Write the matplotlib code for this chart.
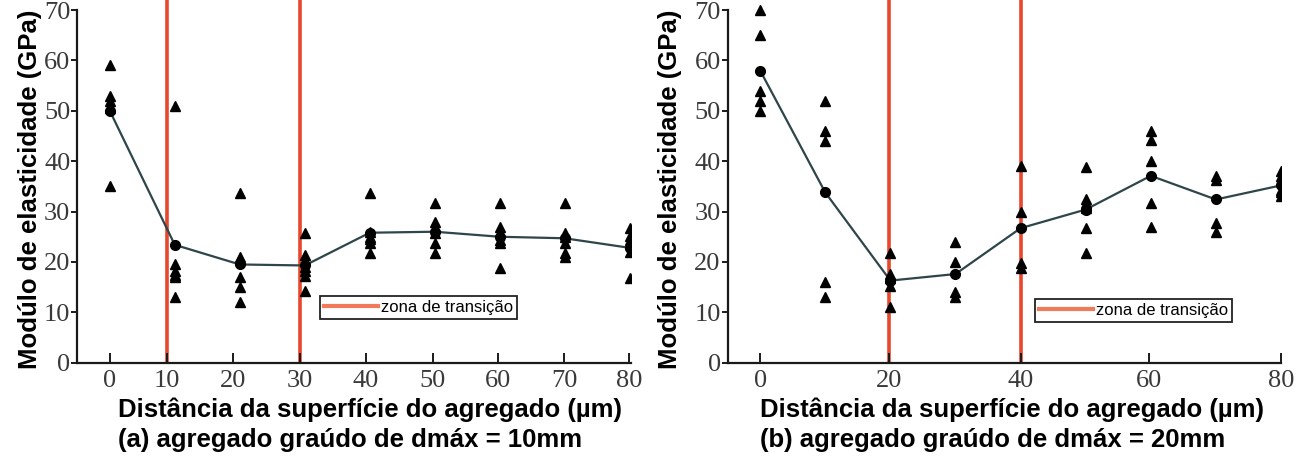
import matplotlib
matplotlib.use("Agg")
import matplotlib.pyplot as plt
from matplotlib.lines import Line2D

# distances from the aggregate surface (um)
dist = [0, 10, 20, 30, 40, 50, 60, 70, 80]

# (a) dmax = 10 mm : individual readings (triangles) and mean (circles)
a_points = [
    [59, 53, 52, 51, 50.5, 35],
    [51, 19.5, 18.2, 17.5, 17, 13],
    [33.7, 21, 20.3, 17, 15, 12],
    [25.8, 21.3, 19, 18.3, 17.2, 14.3],
    [33.7, 26, 25, 24.5, 23.7, 21.7],
    [31.7, 28, 27, 25.8, 23.8, 21.7],
    [31.7, 27, 26, 24.3, 23.8, 18.8],
    [31.7, 25.8, 25, 23.8, 21.7, 21],
    [26.8, 25.2, 24.3, 23.5, 22, 16.9],
]
a_mean = [50, 23.4, 19.5, 19.3, 25.8, 26, 25, 24.7, 22.8]
a_zone = [10, 30]
a_ticks = ["0", "10", "20", "30", "40", "50", "60", "70", "80"]

# (b) dmax = 20 mm
b_points = [
    [70, 65, 54, 52, 50],
    [52, 46, 44, 16, 13],
    [21.8, 17.7, 16.8, 15.2, 11],
    [24, 20, 14, 13],
    [39, 30, 19.8, 18.8],
    [38.8, 32.5, 31.8, 30.8, 26.7, 21.8],
    [46, 44.2, 40, 31.7, 27],
    [37, 36.2, 27.7, 26],
    [38, 37, 36, 34.3, 33.8, 33],
]
b_mean = [58, 33.8, 16.3, 17.6, 26.7, 30.4, 37.1, 32.4, 35.2]
b_zone = [20, 40]
b_ticks = ["0", "20", "40", "60", "80"]

ylabel = "Modúlo de elasticidade (GPa)"
xlabel = "Distância da superfície do agregado (µm)"
captions = ["(a) agregado graúdo de dmáx = 10mm", "(b) agregado graúdo de dmáx = 20mm"]
legend_label = "zona de transição"

red = "#e8472c"
line_col = "#2e4549"
tick_font = dict(family="Liberation Serif", size=19, color="#3a3a3a")
bold_font = dict(family="Liberation Sans", size=18.5, weight="bold", color="black")

W, H = 1310, 459
fig = plt.figure(figsize=(W / 100, H / 100), dpi=100)

# tick label positions in the original panel (a) sit a bit left of the data columns
a_tick_pos = [0, 8.85, 19, 29.25, 39.4, 49.7, 59.8, 69.9, 79.9]
b_tick_pos = [0, 19.85, 40, 59.8, 80]

panels = [
    dict(left=77.3, width=553.7, xlim=(-5, 80.2), pts=a_points, mean=a_mean,
         zone=[a_tick_pos[1], a_tick_pos[3]], tpos=a_tick_pos, tlab=a_ticks,
         leg=(320, 296), xl=118, yl=30, cap=captions[0]),
    dict(left=727.6, width=553.4, xlim=(-5, 80), pts=b_points, mean=b_mean,
         zone=[b_tick_pos[1], b_tick_pos[2]], tpos=b_tick_pos, tlab=b_ticks,
         leg=(1035, 299), xl=760, yl=670, cap=captions[1]),
]

for p in panels:
    ax = fig.add_axes([p["left"] / W, 1 - 362.7 / H, p["width"] / W, 362.7 / H])
    ax.set_xlim(*p["xlim"])
    ax.set_ylim(0, 72)

    for xz in p["zone"]:
        ax.axvline(xz, color=red, lw=2.6, zorder=1)

    ax.plot(dist, p["mean"], color=line_col, lw=1.6, zorder=2)
    for d, vals in zip(dist, p["pts"]):
        ax.plot([d] * len(vals), vals, linestyle="none", marker="^", ms=7.5,
                color="black", zorder=3)
    ax.plot(dist, p["mean"], linestyle="none", marker="o", ms=7, color="black", zorder=4)

    for s in ["top", "right"]:
        ax.spines[s].set_visible(False)
    for s in ["left", "bottom"]:
        ax.spines[s].set_linewidth(1.6)
        ax.spines[s].set_color("#1a1a1a")
    ax.spines["left"].set_bounds(0, 70)

    ax.set_yticks(range(0, 71, 10))
    ax.set_xticks(p["tpos"])
    ax.set_xticklabels(p["tlab"])
    ax.tick_params(axis="y", direction="out", length=4, width=1.4, pad=1, color="#1a1a1a")
    ax.tick_params(axis="x", direction="in", length=7, width=1.4, pad=5, color="#1a1a1a")
    for lab in ax.get_xticklabels() + ax.get_yticklabels():
        lab.set_fontfamily(tick_font["family"])
        lab.set_fontsize(tick_font["size"])
        lab.set_color(tick_font["color"])
    ax.set_facecolor("none")

    handle = Line2D([], [], color="#f07a5a", lw=3)
    leg = ax.legend([handle], [legend_label], loc="upper left",
                    bbox_to_anchor=(p["leg"][0] / W, 1 - p["leg"][1] / H),
                    bbox_transform=fig.transFigure, borderaxespad=0,
                    prop=dict(family="Liberation Sans", size=12),
                    frameon=True, fancybox=False, framealpha=1,
                    edgecolor="#222222", handlelength=3.2, handletextpad=0.2,
                    borderpad=0.25)
    leg.get_frame().set_linewidth(1.3)

    fig.text(p["xl"] / W, 1 - 410 / H, xlabel, ha="left", va="center", **bold_font)
    fig.text(p["xl"] / W, 1 - 440 / H, p["cap"], ha="left", va="center", **bold_font)
    fig.text(p["yl"] / W, 1 - 189 / H, ylabel, ha="center", va="center",
             rotation=90, **bold_font)

fig.savefig("out.png", dpi=100)
